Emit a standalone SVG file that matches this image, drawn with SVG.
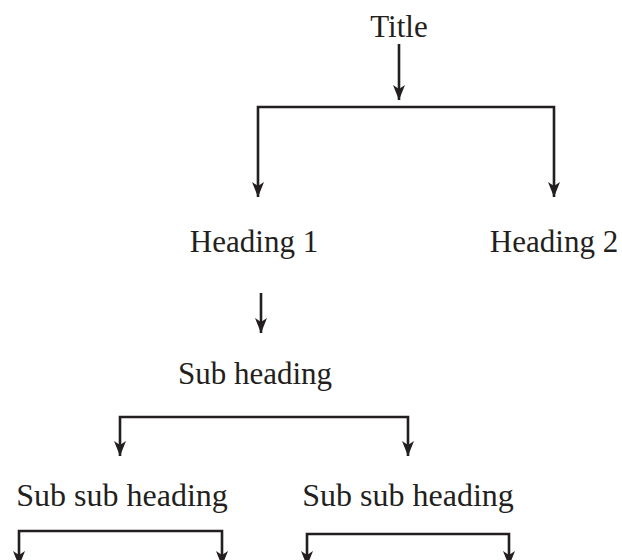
<svg xmlns="http://www.w3.org/2000/svg" width="622" height="560" viewBox="0 0 622 560">
<style>
text{font-family:"Liberation Serif","Times New Roman",serif;font-size:31px;fill:#231f20;text-anchor:middle}
.w{font-size:32px}
.c path{fill:none;stroke:#231f20;stroke-width:2.6;marker-end:url(#ah)}
</style>
<defs>
<marker id="ah" markerUnits="userSpaceOnUse" markerWidth="16" markerHeight="14" viewBox="0 -7 16 14" refX="15" refY="0" orient="auto">
<path d="M0,-6 L15,0 L0,6 L4,0 z" fill="#231f20"/>
</marker>
</defs>
<rect width="622" height="560" fill="#fff"/>
<g id="title"><text x="399" y="37">Title</text></g>
<g id="heading1"><text x="254" y="252">Heading 1</text></g>
<g id="heading2"><text x="554" y="252">Heading 2</text></g>
<g id="subheading"><text x="255" y="384">Sub heading</text></g>
<g id="subsub1"><text class="w" x="122" y="506">Sub sub heading</text></g>
<g id="subsub2"><text class="w" x="408" y="506">Sub sub heading</text></g>
<g class="c" id="connectors">
<path d="M399,44 V100"/>
<path d="M399,107 H258 V197"/>
<path d="M399,107 H554 V197"/>
<path d="M261,293 V333"/>
<path d="M255,417 H120 V456"/>
<path d="M255,417 H408 V456"/>
<path d="M120,531 H19 V566"/>
<path d="M120,531 H222 V566"/>
<path d="M408,534 H307 V566"/>
<path d="M408,534 H509 V566"/>
</g>
</svg>
